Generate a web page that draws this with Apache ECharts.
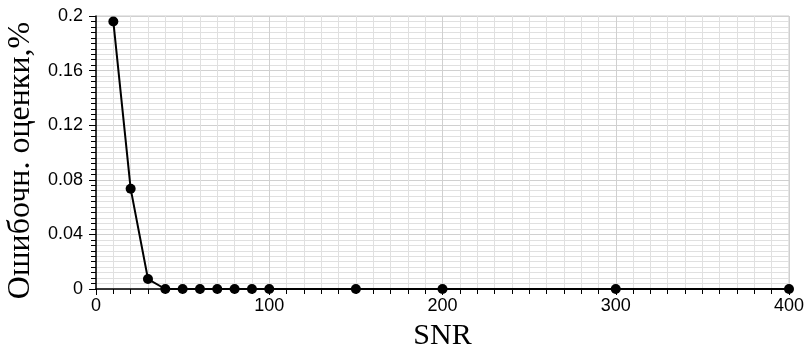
<!DOCTYPE html>
<html><head><meta charset="utf-8">
<script src="https://cdn.jsdelivr.net/npm/echarts@6/dist/echarts.min.js"></script>
<style>html,body{margin:0;padding:0;background:#fff}#c{width:806px;height:356px}</style>
</head><body><div id="c"></div>
<script>
const snr = [10, 20, 30, 40, 50, 60, 70, 80, 90, 100, 150, 200, 300, 400];
const errorRate = [0.196, 0.0735, 0.0073, 0, 0, 0, 0, 0, 0, 0, 0, 0, 0, 0];
const xTitle = 'SNR';
const yTitle = 'Ошибочн. оценки,%';

const chart = echarts.init(document.getElementById('c'), null, {renderer: 'canvas'});
chart.setOption({
  animation: false,
  backgroundColor: '#fff',
  grid: {left: 96, right: 17, top: 16, bottom: 67, show: true, borderColor: '#cccccc', borderWidth: 1,
    containLabel: false, outerBoundsMode: 'none'},
  xAxis: {
    type: 'value', min: 0, max: 400, interval: 100,
    name: xTitle, nameLocation: 'middle', nameGap: 32,
    nameTextStyle: {fontFamily: 'Liberation Serif', fontSize: 30, color: '#000'},
    axisLine: {show: true, onZero: false, lineStyle: {color: '#000', width: 1.5}},
    axisTick: {show: true, length: 6, lineStyle: {color: '#000'}},
    minorTick: {show: true, splitNumber: 10, length: 5, lineStyle: {color: '#000'}},
    axisLabel: {fontFamily: 'Liberation Sans', fontSize: 18, color: '#000', margin: 8},
    splitLine: {show: true, lineStyle: {color: '#d0d0d0'}},
    minorSplitLine: {show: true, lineStyle: {color: '#e0e0e0'}}
  },
  yAxis: {
    type: 'value', min: 0, max: 0.2, interval: 0.04,
    name: yTitle, nameLocation: 'middle', nameGap: 54, nameRotate: 90,
    nameTextStyle: {fontFamily: 'Liberation Serif', fontSize: 32, color: '#000', padding: [0, 16, 0, 0]},
    axisLine: {show: true, lineStyle: {color: '#000', width: 1.5}},
    axisTick: {show: true, length: 7, lineStyle: {color: '#000'}},
    minorTick: {show: true, splitNumber: 10, length: 5, lineStyle: {color: '#000'}},
    axisLabel: {fontFamily: 'Liberation Sans', fontSize: 18, color: '#000', margin: 13,
      formatter: v => String(+v.toFixed(4))},
    splitLine: {show: true, lineStyle: {color: '#d0d0d0'}},
    minorSplitLine: {show: true, lineStyle: {color: '#e0e0e0'}}
  },
  series: [{
    type: 'line',
    data: snr.map((x, i) => [x, errorRate[i]]),
    symbol: 'circle', symbolSize: 10,
    itemStyle: {color: '#000'},
    lineStyle: {color: '#000', width: 2},
    clip: false
  }]
});
</script></body></html>
